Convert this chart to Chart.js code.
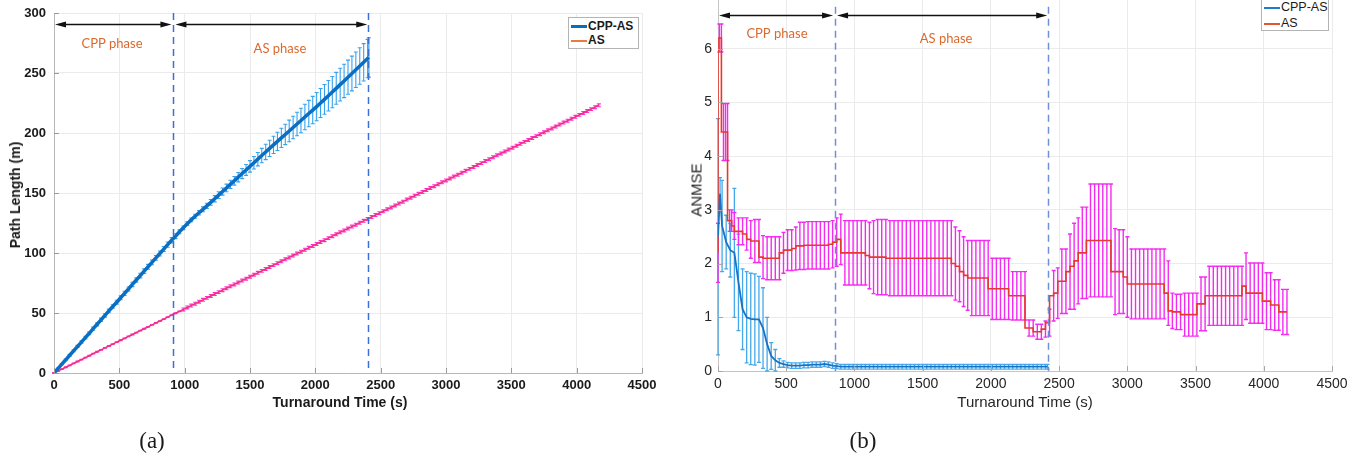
<!DOCTYPE html>
<html>
<head>
<meta charset="utf-8">
<script src="https://cdn.jsdelivr.net/npm/chart.js@4.4.1/dist/chart.umd.min.js"></script>
<style>
  body { margin: 0; background: #fff; width: 1358px; height: 464px; overflow: hidden; position: relative; font-family: "Liberation Sans", Arial, sans-serif; }
  #wrapA { position: absolute; left: 0; top: 0; width: 680px; height: 464px; }
  #wrapB { position: absolute; left: 680px; top: -10px; width: 678px; height: 474px; }
  .t { position: absolute; white-space: nowrap; transform: translate(-50%, -50%); color: #1a1a1a; }
  .legend { position: absolute; background: #fff; border: 1px solid #b4b4b4; }
  .legend .row { position: absolute; left: 0; white-space: nowrap; line-height: 14px; color: #1a1a1a; }
  .legend .sw { display: inline-block; vertical-align: middle; margin: 0 1px 0 2px; width: 16px; }
</style>
</head>
<body>
<div id="wrapA"><canvas id="chartA" width="680" height="464"></canvas></div>
<div id="wrapB"><canvas id="chartB" width="678" height="474"></canvas></div>

<div class="t" style="left:340px;top:402px;font-weight:bold;font-size:14px">Turnaround Time (s)</div>
<div class="t" style="left:15px;top:195px;font-weight:bold;font-size:14px;transform:translate(-50%,-50%) rotate(-90deg)">Path Length (m)</div>
<div class="t" style="left:1025px;top:401px;font-size:15px;color:#262626">Turnaround Time (s)</div>
<div class="t" style="left:696px;top:190px;font-size:15px;color:#262626;transform:translate(-50%,-50%) rotate(-90deg)">ANMSE</div>
<div class="t" style="left:152px;top:441px;font-family:'Liberation Serif',serif;font-size:23px">(a)</div>
<div class="t" style="left:863px;top:441px;font-family:'Liberation Serif',serif;font-size:23px">(b)</div>

<div class="legend" style="left:568px;top:17px;width:69px;height:30px;font-weight:bold;font-size:12px">
  <div class="row" style="top:1px"><span class="sw" style="height:3px;background:#0072BD"></span>CPP-AS</div>
  <div class="row" style="top:15px"><span class="sw" style="height:2px;background:#ea7a3e"></span>AS</div>
</div>
<div class="legend" style="left:1261px;top:-6px;width:66px;height:35px;font-size:12.5px">
  <div class="row" style="top:5px"><span class="sw" style="height:2px;background:#1f7ac8"></span>CPP-AS</div>
  <div class="row" style="top:21px"><span class="sw" style="height:2px;background:#e0552b"></span>AS</div>
</div>

<script>
// rows: [time (s), mean, half error bar]
const leftCppAs = [
  [0,0,0.2],[30,3.7,0.4],[60,7.4,0.5],[90,11.0,0.6],[120,14.8,0.7],[150,18.5,0.8],[180,22.1,0.9],[210,25.8,1.0],[240,29.5,1.1],[270,33.1,1.2],
  [300,36.9,1.3],[330,40.6,1.3],[360,44.3,1.4],[390,48.0,1.4],[420,51.7,1.5],[450,55.4,1.5],[480,59.0,1.6],[510,62.7,1.6],[540,66.4,1.7],[570,70.0,1.7],
  [600,73.8,1.8],[630,77.5,1.8],[660,81.2,1.9],[690,84.9,1.9],[720,88.5,2.0],[750,92.2,2.0],[780,95.9,2.0],[810,99.6,2.1],[840,103.3,2.1],[870,107.0,2.2],
  [900,110.6,2.2],[930,114.0,2.0],[960,117.7,1.6],[990,121.0,1.5],[1020,124.4,1.5],[1050,127.6,1.6],[1080,130.6,1.7],[1110,133.5,1.8],[1140,136.4,2.0],[1170,139.3,2.2],
  [1200,142.2,2.4],[1230,145.2,2.6],[1260,148.2,2.8],[1290,151.2,3.0],[1320,154.2,3.2],[1350,157.2,3.4],[1380,160.2,3.6],[1410,163.2,3.9],[1440,166.2,4.2],[1470,169.2,4.5],
  [1500,172.2,4.8],[1530,175.2,5.2],[1560,178.2,5.6],[1590,181.2,6.0],[1620,184.2,6.4],[1650,187.2,6.8],[1680,190.1,7.2],[1710,193.0,7.6],[1740,195.9,8.0],[1770,198.8,8.5],
  [1800,201.7,9.0],[1830,204.6,9.4],[1860,207.5,9.8],[1890,210.4,10.2],[1920,213.3,10.6],[1950,216.2,11.0],[1980,219.1,11.4],[2010,222.0,11.8],[2040,225.0,12.1],[2070,228.0,12.4],
  [2100,231.0,12.7],[2130,234.1,13.0],[2160,237.2,13.3],[2190,240.3,13.6],[2220,243.4,13.9],[2250,246.5,14.2],[2280,249.6,14.5],[2310,252.7,14.8],[2340,255.8,15.2],[2370,258.9,15.6],
  [2400,262.0,16.0],[2410,263.0,16.4]
]

const leftAs = [
  [0,0,0.3],[30,1.6,0.3],[60,3.2,0.3],[90,4.8,0.3],[120,6.4,0.3],[150,8.0,0.3],[180,9.6,0.3],[210,11.2,0.3],[240,12.8,0.3],[270,14.4,0.3],
  [300,16.1,0.3],[330,17.7,0.3],[360,19.3,0.3],[390,20.9,0.3],[420,22.5,0.3],[450,24.1,0.3],[480,25.7,0.3],[510,27.3,0.3],[540,28.9,0.3],[570,30.5,0.3],
  [600,32.1,0.3],[630,33.7,0.3],[660,35.3,0.3],[690,36.9,0.3],[720,38.5,0.3],[750,40.1,0.3],[780,41.7,0.3],[810,43.3,0.3],[840,44.9,0.3],[870,46.5,0.3],
  [900,48.2,0.3],[930,49.8,0.3],[960,51.4,0.3],[990,53.0,1.2],[1020,54.6,1.2],[1050,56.2,1.2],[1080,57.8,1.2],[1110,59.4,1.2],[1140,61.0,1.2],[1170,62.6,1.2],
  [1200,64.2,1.2],[1230,65.8,1.2],[1260,67.4,1.2],[1290,69.0,1.2],[1320,70.6,1.2],[1350,72.2,1.2],[1380,73.8,1.2],[1410,75.4,1.2],[1440,77.0,1.2],[1470,78.6,1.2],
  [1500,80.3,1.2],[1530,81.9,1.2],[1560,83.5,1.2],[1590,85.1,1.2],[1620,86.7,1.2],[1650,88.3,1.2],[1680,89.9,1.2],[1710,91.5,1.2],[1740,93.1,1.2],[1770,94.7,1.2],
  [1800,96.3,1.2],[1830,97.9,1.2],[1860,99.5,1.2],[1890,101.1,1.2],[1920,102.7,1.2],[1950,104.3,1.2],[1980,105.9,1.2],[2010,107.5,1.2],[2040,109.1,1.2],[2070,110.7,1.2],
  [2100,112.4,1.2],[2130,114.0,1.2],[2160,115.6,1.2],[2190,117.2,1.2],[2220,118.8,1.2],[2250,120.4,1.2],[2280,122.0,1.2],[2310,123.6,1.2],[2340,125.2,1.2],[2370,126.8,1.2],
  [2400,128.4,1.2],[2430,130.0,1.2],[2460,131.6,1.2],[2490,133.2,1.2],[2520,134.8,1.2],[2550,136.4,1.2],[2580,138.0,1.2],[2610,139.6,1.2],[2640,141.2,1.2],[2670,142.8,1.2],
  [2700,144.5,1.2],[2730,146.1,1.2],[2760,147.7,1.2],[2790,149.3,1.2],[2820,150.9,1.2],[2850,152.5,1.2],[2880,154.1,1.2],[2910,155.7,1.2],[2940,157.3,1.2],[2970,158.9,1.2],
  [3000,160.5,1.2],[3030,162.1,1.2],[3060,163.7,1.2],[3090,165.3,1.2],[3120,166.9,1.2],[3150,168.5,1.2],[3180,170.1,1.2],[3210,171.7,1.2],[3240,173.3,1.2],[3270,174.9,1.2],
  [3300,176.6,1.2],[3330,178.2,1.2],[3360,179.8,1.2],[3390,181.4,1.2],[3420,183.0,1.2],[3450,184.6,1.2],[3480,186.2,1.2],[3510,187.8,1.2],[3540,189.4,1.2],[3570,191.0,1.2],
  [3600,192.6,1.2],[3630,194.2,1.2],[3660,195.8,1.2],[3690,197.4,1.2],[3720,199.0,1.2],[3750,200.6,1.2],[3780,202.2,1.2],[3810,203.8,1.2],[3840,205.4,1.2],[3870,207.0,1.2],
  [3900,208.7,1.2],[3930,210.3,1.2],[3960,211.9,1.2],[3990,213.5,1.2],[4020,215.1,1.2],[4050,216.7,1.2],[4080,218.3,1.2],[4110,219.9,1.2],[4140,221.5,1.2],[4170,223.1,1.2]
]

const rightCppAs = [
  [0,2.5,2.2],[15,3.3,0.3],[30,2.7,0.85],[60,2.4,0.5],[90,2.25,0.5],[120,2.2,1.2],[150,1.65,0.9],[180,1.15,0.75],[210,1.0,0.85],[240,0.97,0.85],
  [270,0.96,0.85],[300,0.96,0.8],[330,0.8,0.75],[360,0.5,0.5],[390,0.28,0.25],[420,0.2,0.2],[450,0.15,0.08],[480,0.13,0.06],[510,0.11,0.05],[540,0.1,0.05],
  [570,0.1,0.05],[600,0.1,0.05],[630,0.11,0.05],[660,0.11,0.05],[690,0.12,0.05],[720,0.12,0.05],[750,0.12,0.05],[780,0.13,0.05],[810,0.12,0.05],[840,0.1,0.05],
  [870,0.09,0.045],[900,0.08,0.045],[930,0.08,0.045],[960,0.08,0.045],[990,0.08,0.045],[1020,0.08,0.045],[1050,0.08,0.045],[1080,0.08,0.045],[1110,0.08,0.045],[1140,0.08,0.045],
  [1170,0.08,0.045],[1200,0.08,0.045],[1230,0.08,0.045],[1260,0.08,0.045],[1290,0.08,0.045],[1320,0.08,0.045],[1350,0.08,0.045],[1380,0.08,0.045],[1410,0.08,0.045],[1440,0.08,0.045],
  [1470,0.08,0.045],[1500,0.08,0.045],[1530,0.08,0.045],[1560,0.08,0.045],[1590,0.08,0.045],[1620,0.08,0.045],[1650,0.08,0.045],[1680,0.08,0.045],[1710,0.08,0.045],[1740,0.08,0.045],
  [1770,0.08,0.045],[1800,0.08,0.045],[1830,0.08,0.045],[1860,0.08,0.045],[1890,0.08,0.045],[1920,0.08,0.045],[1950,0.08,0.045],[1980,0.08,0.045],[2010,0.08,0.045],[2040,0.08,0.045],
  [2070,0.08,0.045],[2100,0.08,0.045],[2130,0.08,0.045],[2160,0.08,0.045],[2190,0.08,0.045],[2220,0.08,0.045],[2250,0.08,0.045],[2280,0.08,0.045],[2310,0.08,0.045],[2340,0.08,0.045],
  [2370,0.08,0.045],[2400,0.08,0.045],[2415,0.08,0.045]
]

const rightAs = [
  [0,2.2,0.55],[10,6.2,0.26],[25,6.2,0.26],[40,4.45,0.53],[55,4.45,0.53],[70,4.45,0.53],[85,2.8,0.2],[100,2.8,0.2],[120,2.7,0.25],
  [150,2.6,0.25],[180,2.6,0.25],[210,2.55,0.3],[240,2.45,0.35],[270,2.42,0.4],[300,2.42,0.4],[330,2.12,0.4],[360,2.1,0.4],[390,2.1,0.4],[420,2.1,0.4],[450,2.1,0.4],
  [480,2.2,0.38],[510,2.25,0.38],[540,2.25,0.38],[570,2.28,0.4],[600,2.33,0.44],[630,2.33,0.44],[660,2.34,0.44],[690,2.34,0.44],[720,2.34,0.44],[750,2.34,0.44],
  [780,2.34,0.44],[810,2.34,0.44],[840,2.36,0.44],[870,2.4,0.45],[900,2.45,0.47],[930,2.2,0.6],[960,2.2,0.6],[990,2.2,0.6],[1020,2.2,0.6],[1050,2.2,0.6],
  [1080,2.2,0.6],[1110,2.15,0.62],[1140,2.12,0.68],[1170,2.12,0.7],[1200,2.12,0.7],[1230,2.12,0.7],[1260,2.1,0.7],[1290,2.1,0.7],[1320,2.1,0.7],[1350,2.1,0.7],
  [1380,2.1,0.7],[1410,2.1,0.7],[1440,2.1,0.7],[1470,2.1,0.7],[1500,2.1,0.7],[1530,2.1,0.7],[1560,2.1,0.7],[1590,2.1,0.7],[1620,2.1,0.7],[1650,2.1,0.7],
  [1680,2.1,0.7],[1710,2.1,0.7],[1740,2.0,0.68],[1770,1.95,0.66],[1800,1.85,0.65],[1830,1.78,0.65],[1860,1.73,0.7],[1890,1.73,0.7],[1920,1.73,0.7],[1950,1.73,0.7],
  [1980,1.73,0.7],[2010,1.53,0.57],[2040,1.53,0.57],[2070,1.53,0.57],[2100,1.53,0.57],[2130,1.53,0.57],[2160,1.4,0.45],[2190,1.4,0.45],[2220,1.4,0.45],[2250,1.4,0.45],
  [2280,0.8,0.15],[2310,0.8,0.15],[2340,0.73,0.14],[2370,0.73,0.14],[2400,0.78,0.15],[2430,0.9,0.25],[2460,1.4,0.47],[2490,1.45,0.47],[2520,1.67,0.6],[2550,1.67,0.6],
  [2580,1.85,0.7],[2610,1.95,0.8],[2640,2.05,0.8],[2670,2.2,0.85],[2700,2.2,0.85],[2730,2.43,1.05],[2760,2.43,1.05],[2790,2.43,1.05],[2820,2.43,1.05],[2850,2.43,1.05],
  [2880,2.43,1.05],[2910,1.85,0.8],[2940,1.85,0.78],[2970,1.85,0.78],[3000,1.75,0.75],[3030,1.62,0.65],[3060,1.62,0.65],[3090,1.62,0.65],[3120,1.62,0.65],[3150,1.62,0.65],
  [3180,1.62,0.65],[3210,1.62,0.65],[3240,1.62,0.65],[3270,1.62,0.65],[3300,1.45,0.6],[3330,1.12,0.33],[3360,1.1,0.33],[3390,1.1,0.33],[3420,1.05,0.4],[3450,1.05,0.4],
  [3480,1.05,0.4],[3510,1.05,0.4],[3540,1.25,0.5],[3570,1.25,0.5],[3600,1.4,0.55],[3630,1.4,0.55],[3660,1.4,0.55],[3690,1.4,0.55],[3720,1.4,0.55],[3750,1.4,0.55],
  [3780,1.4,0.55],[3810,1.4,0.55],[3840,1.4,0.55],[3870,1.58,0.62],[3900,1.45,0.56],[3930,1.45,0.56],[3960,1.45,0.56],[3990,1.45,0.56],[4020,1.3,0.53],[4050,1.3,0.53],
  [4080,1.23,0.47],[4110,1.23,0.47],[4140,1.1,0.42],[4170,1.1,0.42]
]

const phaseNames = ["CPP phase", "AS phase"]
const leftPhaseBounds = [0, 914, 2405]
const rightPhaseBounds = [0, 858, 2420]
const timeTicks = { min: 0, max: 4500, step: 500 }

function toPoints(rows) {
  return rows.map((r) => ({ x: r[0], y: r[1] }))
}

function toErrs(rows) {
  return rows.map((r) => r[2])
}

const errorBarPlugin = {
  id: "errorBars",
  beforeDatasetsDraw(chart) {
    const ctx = chart.ctx
    const xs = chart.scales.x
    const ys = chart.scales.y
    chart.data.datasets.forEach((ds) => {
      if (!ds.errs) return
      const cap = ds.errCap || 2
      ctx.save()
      ctx.strokeStyle = ds.errColor
      ctx.lineWidth = ds.errWidth || 1
      ctx.beginPath()
      ds.data.forEach((p, i) => {
        const e = ds.errs[i]
        const px = xs.getPixelForValue(p.x)
        const top = ys.getPixelForValue(p.y + e)
        const bot = ys.getPixelForValue(p.y - e)
        ctx.moveTo(px, top)
        ctx.lineTo(px, bot)
        ctx.moveTo(px - cap, top)
        ctx.lineTo(px + cap, top)
        ctx.moveTo(px - cap, bot)
        ctx.lineTo(px + cap, bot)
      })
      ctx.stroke()
      ctx.restore()
    })
  },
}

function drawArrow(ctx, x1, x2, y) {
  const hl = 11
  const hw = 3
  ctx.beginPath()
  ctx.moveTo(x1 + hl - 2, y)
  ctx.lineTo(x2 - hl + 2, y)
  ctx.stroke()
  ctx.beginPath()
  ctx.moveTo(x1, y)
  ctx.lineTo(x1 + hl, y - hw)
  ctx.lineTo(x1 + hl, y + hw)
  ctx.closePath()
  ctx.moveTo(x2, y)
  ctx.lineTo(x2 - hl, y - hw)
  ctx.lineTo(x2 - hl, y + hw)
  ctx.closePath()
  ctx.fill()
}

const phasePlugin = {
  id: "phases",
  afterDatasetsDraw(chart, args, opts) {
    const { ctx, chartArea } = chart
    const xs = chart.scales.x
    const ys = chart.scales.y
    const b = opts.bounds
    ctx.save()
    ctx.strokeStyle = opts.dashColor
    ctx.lineWidth = 1.5
    ctx.setLineDash([7, 5])
    for (const v of [b[1], b[2]]) {
      const px = Math.round(xs.getPixelForValue(v)) + 0.5
      ctx.beginPath()
      ctx.moveTo(px, ys.getPixelForValue(opts.dashTop))
      ctx.lineTo(px, chartArea.bottom)
      ctx.stroke()
    }
    ctx.setLineDash([])
    ctx.strokeStyle = "#111"
    ctx.fillStyle = "#111"
    ctx.lineWidth = 1.3
    const ay = Math.round(ys.getPixelForValue(opts.arrowY)) + 0.5
    drawArrow(ctx, xs.getPixelForValue(b[0]) + 1, xs.getPixelForValue(b[1]) - 2, ay)
    drawArrow(ctx, xs.getPixelForValue(b[1]) + 2, xs.getPixelForValue(b[2]) - 1, ay)
    ctx.fillStyle = "#d9692e"
    ctx.font = "13px Lato"
    ctx.textAlign = "center"
    ctx.textBaseline = "middle"
    opts.labels.forEach((l, i) => {
      ctx.fillText(phaseNames[i], xs.getPixelForValue(l.x), ys.getPixelForValue(l.y))
    })
    ctx.restore()
  },
}

const innerTicksPlugin = {
  id: "innerTicks",
  afterDraw(chart, args, opts) {
    const { ctx, chartArea: a } = chart
    const xs = chart.scales.x
    const ys = chart.scales.y
    ctx.save()
    ctx.strokeStyle = opts.color
    ctx.lineWidth = 1
    ctx.beginPath()
    xs.ticks.forEach((t) => {
      const px = Math.round(xs.getPixelForValue(t.value)) + 0.5
      ctx.moveTo(px, a.bottom)
      ctx.lineTo(px, a.bottom - 5)
    })
    ys.ticks.forEach((t) => {
      const py = Math.round(ys.getPixelForValue(t.value)) + 0.5
      ctx.moveTo(a.left, py)
      ctx.lineTo(a.left + 5, py)
    })
    ctx.stroke()
    ctx.restore()
  },
}

function timeAxis(fontOpts, color, height, axisColor) {
  return {
    type: "linear",
    min: timeTicks.min,
    max: timeTicks.max,
    afterFit: (scale) => {
      scale.height = height
      scale.paddingLeft = 0
      scale.paddingRight = 0
    },
    grid: { color: "#ebebeb", drawTicks: false },
    border: { color: axisColor, width: 1 },
    ticks: { stepSize: timeTicks.step, padding: 5, color: color, font: fontOpts, maxRotation: 0, callback: (v) => String(v) },
  }
}

function valueAxis(max, step, width, padding, fontOpts, color, axisColor, shownMax) {
  return {
    min: 0,
    max: max,
    afterFit: (scale) => {
      scale.width = width
      scale.paddingTop = 0
      scale.paddingBottom = 0
    },
    grid: { color: "#ebebeb", drawTicks: false },
    border: { color: axisColor, width: 1 },
    ticks: {
      stepSize: step,
      padding: padding,
      color: color,
      font: fontOpts,
      callback: (v) => (v > shownMax ? "" : String(v)),
    },
  }
}

new Chart(document.getElementById("chartA"), {
  type: "line",
  data: {
    datasets: [
      {
        label: "CPP-AS",
        data: toPoints(leftCppAs),
        errs: toErrs(leftCppAs),
        errColor: "#35a2ee",
        errCap: 2,
        errWidth: 1.1,
        borderColor: "#0a6fc2",
        borderWidth: 3.5,
        pointRadius: 0,
        tension: 0,
      },
      {
        label: "AS",
        data: toPoints(leftAs),
        errs: toErrs(leftAs),
        errColor: "#ff2fcf",
        errCap: 2,
        errWidth: 1.1,
        borderColor: "#f0307a",
        borderWidth: 1.5,
        pointRadius: 0,
        tension: 0,
      },
    ],
  },
  options: {
    responsive: false,
    animation: false,
    layout: { padding: { left: 0, top: 13, right: 38, bottom: 0 } },
    plugins: {
      legend: { display: false },
      tooltip: { enabled: false },
      phases: {
        bounds: leftPhaseBounds,
        dashColor: "#3a6fd8",
        dashTop: 300,
        arrowY: 290.5,
        labels: [{ x: 444, y: 274 }, { x: 1729, y: 270 }],
      },
      innerTicks: { color: "#9a9a9a" },
    },
    scales: {
      x: timeAxis({ family: "Liberation Sans", size: 13, weight: "bold" }, "#1a1a1a", 91, "#b8b8b8"),
      y: valueAxis(300, 50, 54, 8, { family: "Liberation Sans", size: 13, weight: "bold" }, "#1a1a1a", "#b8b8b8", 300),
    },
  },
  plugins: [errorBarPlugin, phasePlugin, innerTicksPlugin],
})

new Chart(document.getElementById("chartB"), {
  type: "line",
  data: {
    datasets: [
      {
        label: "CPP-AS",
        data: toPoints(rightCppAs),
        errs: toErrs(rightCppAs),
        errColor: "#45a8ea",
        errCap: 2,
        errWidth: 1.3,
        borderColor: "#1a72c2",
        borderWidth: 1.8,
        pointRadius: 0,
        tension: 0,
      },
      {
        label: "AS",
        data: toPoints(rightAs),
        errs: toErrs(rightAs),
        errColor: "#f52af2",
        errCap: 2,
        errWidth: 1.4,
        borderColor: "#e6392d",
        borderWidth: 1.6,
        pointRadius: 0,
        stepped: "after",
      },
    ],
  },
  options: {
    responsive: false,
    animation: false,
    layout: { padding: { left: 0, top: 5, right: 26, bottom: 0 } },
    plugins: {
      legend: { display: false },
      tooltip: { enabled: false },
      phases: {
        bounds: rightPhaseBounds,
        dashColor: "#6f90d8",
        dashTop: 6.78,
        arrowY: 6.63,
        labels: [{ x: 432, y: 6.28 }, { x: 1672, y: 6.18 }],
      },
      innerTicks: { color: "#a8a8a8" },
    },
    scales: {
      x: timeAxis({ family: "Liberation Sans", size: 14 }, "#262626", 93, "#c4c4c4"),
      y: valueAxis(7, 1, 38, 6, { family: "Liberation Sans", size: 14 }, "#262626", "#c4c4c4", 6),
    },
  },
  plugins: [errorBarPlugin, phasePlugin, innerTicksPlugin],
})
</script>
</body>
</html>
